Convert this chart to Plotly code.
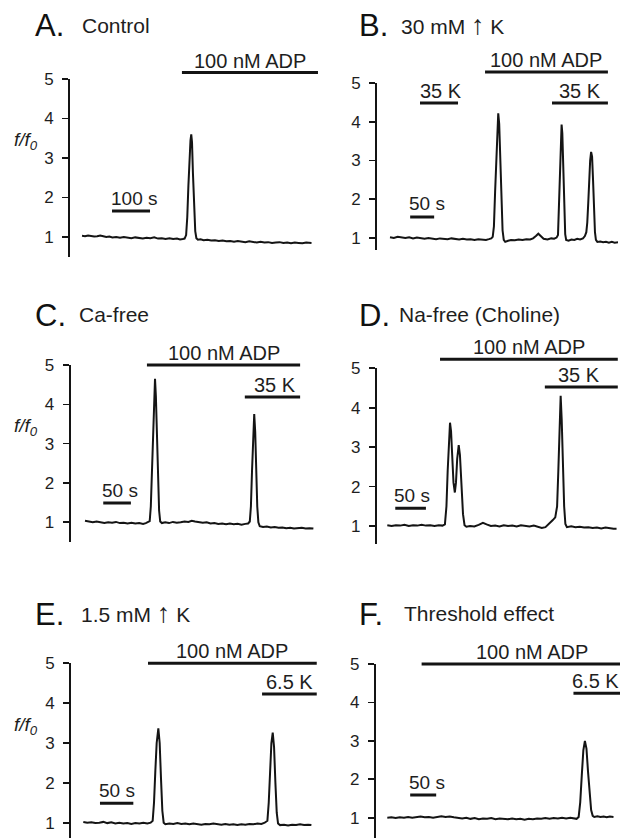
import plotly.graph_objects as go

# ---------------- data (time in s, f/f0) ----------------
trace_A = [(0,1.03),(8,1.02),(16,1.04),(24,1.03),(32,1.01),(40,1.02),(48,1.04),(56,1.02),(64,1.0),(72,1.01),
           (80,0.99),(90,1.0),(100,0.98),(110,1.0),(120,0.99),(130,0.97),(140,0.99),(150,0.98),(160,0.96),(170,0.98),
           (180,0.97),(190,0.99),(200,0.96),(210,0.97),(220,0.95),(230,0.97),(240,0.95),(250,0.96),(258,0.94),(265,0.95),(270,0.96),
           (274,1.05),(277,1.5),(280,2.3),(283,3.1),(285.5,3.45),(287.5,3.6),(289.5,3.4),(292,2.6),(295,1.7),(298,1.15),(301,0.97),(305,0.93),
           (312,0.94),(320,0.92),(330,0.93),(340,0.91),(350,0.92),(360,0.9),(370,0.91),(380,0.89),(390,0.9),(400,0.88),
           (410,0.9),(420,0.88),(430,0.87),(440,0.89),(450,0.87),(460,0.86),(470,0.88),(480,0.86),(490,0.87),(500,0.85),
           (510,0.86),(520,0.87),(530,0.85),(540,0.86),(550,0.84),(560,0.86),(570,0.85),(580,0.84),(590,0.86),(598,0.85),(604,0.85)]

trace_B = [(0,1.02),(8,1.0),(16,1.03),(24,1.01),(32,1.0),(40,1.02),(48,0.99),(56,1.01),(64,1.0),(72,0.98),(80,1.0),(88,0.99),
           (96,0.97),(104,0.99),(112,0.98),(120,0.97),(128,0.99),(136,0.97),(144,0.96),(152,0.98),(160,0.96),(168,0.97),(176,0.95),
           (184,0.97),(192,0.96),(200,0.95),(206,0.97),(211,0.99),(214,1.03),
           (216.5,1.3),(219,2.2),(221.5,3.2),(223.5,3.9),(225.5,4.22),(227.5,3.95),(229.5,3.0),(232,1.9),(234.5,1.2),(237,0.95),(240,0.9),
           (246,0.93),(252,0.95),(260,0.94),(268,0.96),(276,0.95),(284,0.97),(292,0.96),(298,0.99),(304,1.05),(309,1.11),(314,1.05),
           (320,0.98),(328,0.96),(336,0.99),(342,0.98),(347,1.01),(350,1.08),
           (352,1.8),(354,2.9),(356,3.6),(357.5,3.93),(359,3.7),(361,2.7),(363,1.7),(365,1.1),(367,0.95),
           (372,0.93),(378,0.96),(384,0.95),(390,0.98),(396,0.96),(402,0.99),(406,1.05),(409,1.15),(411,1.4),(413,1.9),(415,2.5),
           (417,3.0),(419,3.22),(421,3.1),(423,2.5),(425,1.7),(427,1.15),(429,0.95),(432,0.9),
           (438,0.91),(444,0.89),(450,0.9),(456,0.88),(462,0.9),(468,0.88),(475,0.89)]

trace_C = [(0,1.04),(7,1.02),(14,1.0),(21,1.02),(28,1.0),(35,0.98),(42,1.0),(49,0.99),(56,1.01),(63,0.98),(70,0.99),(77,0.97),
           (84,0.99),(91,0.97),(98,0.98),(105,0.96),(110,0.98),(114,1.0),(117,1.03),
           (119,1.4),(121,2.3),(123,3.3),(125,4.2),(126.6,4.65),(128.2,4.2),(130,3.1),(132,2.0),(134,1.3),(136,1.02),(139,0.98),
           (145,1.0),(152,0.98),(159,1.01),(166,0.99),(173,1.0),(180,1.02),(187,1.01),(193,1.04),(199,1.02),(206,1.0),(213,0.99),
           (220,1.0),(227,0.97),(234,0.98),(241,0.96),(248,0.97),(255,0.95),(262,0.97),(269,0.95),(276,0.96),(283,0.94),(290,0.96),
           (295,0.97),(298,1.02),
           (300,1.4),(302,2.3),(304,3.2),(306,3.75),(307.8,3.3),(309.5,2.3),(311.5,1.4),(313.5,1.0),(316,0.9),
           (322,0.88),(329,0.89),(336,0.87),(343,0.88),(350,0.86),(357,0.87),(364,0.85),(371,0.86),(378,0.84),(385,0.85),
           (392,0.86),(399,0.84),(406,0.85),(413,0.84)]

trace_D = [(0,1.02),(7,1.0),(14,1.02),(21,1.01),(28,1.03),(35,1.0),(42,1.02),(49,1.01),(56,1.03),(63,1.01),(70,1.02),(77,1.0),
           (84,1.02),(90,1.01),(94,1.04),
           (96.5,1.5),(98.5,2.4),(100.5,3.2),(102.3,3.62),(104,3.4),(106,2.7),(108,2.1),(110.2,1.85),(112,2.1),(114,2.7),
           (116.5,3.05),(118.5,2.8),(121,2.0),(123.5,1.3),(126,1.02),(129,0.98),
           (135,1.0),(142,0.99),(149,1.03),(156,1.08),(162,1.04),(169,1.0),(176,1.01),(183,0.99),(190,1.02),(197,1.0),(204,1.01),
           (211,0.99),(218,1.02),(225,1.0),(232,0.99),(239,1.01),(246,0.98),(252,0.95),(258,0.97),(264,1.05),(270,1.15),(274,1.22),
           (277,1.5),(279,2.4),(281,3.5),(282.8,4.3),(284.5,3.7),(286.5,2.5),(288.5,1.5),(290.5,1.05),(293,0.97),
           (300,0.99),(307,0.97),(314,0.98),(321,0.96),(328,0.97),(335,0.95),(342,0.96),(349,0.94),(356,0.96),(363,0.94),
           (369,0.93),(374,0.93)]

trace_E = [(0,1.02),(6,1.0),(12,1.01),(18,0.99),(24,1.0),(30,1.02),(36,0.99),(42,1.01),(48,0.98),(54,1.0),(60,0.98),(66,0.99),
           (72,0.97),(78,0.99),(84,0.98),(90,1.0),(96,0.98),(101,1.0),(104,1.05),
           (106,1.5),(108,2.3),(110,3.0),(112.5,3.37),(114.5,3.0),(116.5,2.1),(118.5,1.3),(120.5,1.0),(123,0.96),
           (129,0.98),(135,0.97),(141,0.99),(147,0.97),(153,0.98),(159,0.96),(165,0.98),(171,0.97),(177,0.95),(183,0.97),(189,0.96),
           (195,0.98),(201,0.96),(207,0.95),(213,0.97),(219,0.95),(225,0.96),(231,0.94),(237,0.96),(243,0.95),(249,0.97),(255,0.96),
           (261,0.98),(267,0.97),(272,1.0),(276,1.05),
           (278,1.5),(280,2.3),(282,3.0),(284,3.26),(286,2.9),(288,2.0),(290,1.25),(292,0.98),(295,0.94),
           (301,0.95),(307,0.93),(313,0.95),(319,0.94),(325,0.96),(331,0.94),(337,0.95),(342,0.94)]

trace_F = [(0,1.0),(8,1.01),(16,0.99),(24,1.01),(32,1.0),(40,1.02),(48,1.0),(56,1.01),(64,1.03),(72,1.01),(80,1.02),(88,1.0),
           (96,1.03),(104,1.04),(112,1.02),(120,1.03),(128,1.01),(136,1.0),(144,0.98),(152,1.0),(160,0.97),(168,0.99),(176,0.96),
           (184,0.98),(192,0.97),(200,0.99),(208,0.96),(216,0.98),(224,0.97),(232,0.96),(240,0.98),(248,0.96),(256,0.97),(264,0.95),
           (272,0.97),(280,0.96),(288,0.98),(296,0.97),(304,0.99),(312,0.97),(320,0.99),(328,0.98),(336,1.0),(344,0.98),(352,1.0),
           (358,0.99),(364,0.97),(368,1.02),
           (371,1.4),(374,2.1),(377,2.75),(380,3.0),(383,2.8),(386,2.2),(389,1.6),(392,1.2),(395,1.05),(398,1.02),
           (404,1.04),(410,1.02),(416,1.03),(422,1.01),(428,1.03),(435,1.02)]

# application bars: (label, start s, end s)
bars_A = [("100 nM ADP", 263, 621)]
bars_B = [("100 nM ADP", 198, 454), ("35 K", 62.5, 141.7), ("35 K", 337.5, 454)]
bars_C = [("100 nM ADP", 112, 389), ("35 K", 289, 389)]
bars_D = [("100 nM ADP", 86, 376), ("35 K", 257, 376)]
bars_E = [("100 nM ADP", 97, 350), ("6.5 K", 268, 350)]
bars_F = [("100 nM ADP", 66, 447.5), ("6.5 K", 358, 447.5)]

# time scale bars: (label, start s, end s)
scale_A = ("100 s", 79, 179)
scale_B = ("50 s", 42, 92)
scale_C = ("50 s", 33, 83)
scale_D = ("50 s", 13, 63)
scale_E = ("50 s", 25, 75)
scale_F = ("50 s", 44, 94)

ARROW = "&nbsp;<span style='font-size:27px'>\u2191</span>&nbsp;"
titles = {"A": "Control", "B": "30 mM" + ARROW + "K", "C": "Ca-free", "D": "Na-free (Choline)",
          "E": "1.5 mM" + ARROW + "K", "F": "Threshold effect"}
y_ticks = [1, 2, 3, 4, 5]

# ---------------- layout geometry (pixels) ----------------
W, H = 624, 838
geom = {
    "A": dict(ax=70, right=320, t0=82, pps=0.38, y5=79, y1=237, bot=257, bar_y=[72.5], scale_y=211,
              let_x=33, sub_x=80, title_y=25, text_dx=[0]),
    "B": dict(ax=377, right=620, t0=390, pps=0.48, y5=83, y1=238, bot=250, bar_y=[72, 103, 103], scale_y=217,
              let_x=357, sub_x=399, title_y=25, text_dx=[0, 2, 0]),
    "C": dict(ax=70.5, right=315, t0=85, pps=0.553, y5=365, y1=522.3, bot=542, bar_y=[365, 397], scale_y=503,
              let_x=33, sub_x=77, title_y=314, text_dx=[0, 3]),
    "D": dict(ax=376.7, right=620, t0=387.3, pps=0.613, y5=368.3, y1=526, bot=544, bar_y=[359.3, 387], scale_y=508.3,
              let_x=357, sub_x=397, title_y=314, text_dx=[0, -2]),
    "E": dict(ax=71, right=318, t0=83.3, pps=0.667, y5=663.3, y1=822.7, bot=838, bar_y=[663.3, 694], scale_y=803.3,
              let_x=33, sub_x=79, title_y=613, text_dx=[0, 0]),
    "F": dict(ax=375.7, right=622, t0=387.3, pps=0.52, y5=664, y1=817.7, bot=838, bar_y=[664, 693.3], scale_y=795,
              let_x=357, sub_x=402, title_y=613, text_dx=[11, -1]),
}
traces = {"A": trace_A, "B": trace_B, "C": trace_C, "D": trace_D, "E": trace_E, "F": trace_F}
bars = {"A": bars_A, "B": bars_B, "C": bars_C, "D": bars_D, "E": bars_E, "F": bars_F}
scales = {"A": scale_A, "B": scale_B, "C": scale_C, "D": scale_D, "E": scale_E, "F": scale_F}
ylabel_panels = {"A", "C", "E"}

FONT = "Liberation Sans, Arial, Helvetica, sans-serif"
INK = "#141414"
TXT = "#1e1e1e"

fig = go.Figure()
shapes, annos = [], []
for i, p in enumerate(["A", "B", "C", "D", "E", "F"]):
    n = "" if i == 0 else str(i + 1)
    g = geom[p]
    ppu = (g["y1"] - g["y5"]) / 4.0
    t = [pt[0] for pt in traces[p]]
    f = [pt[1] for pt in traces[p]]
    fig.add_trace(go.Scatter(x=t, y=f, mode="lines", line=dict(color=INK, width=2),
                             xaxis="x" + n, yaxis="y" + n, showlegend=False, hoverinfo="skip"))
    fig.layout["xaxis" + n] = dict(domain=[g["ax"] / W, g["right"] / W],
                                   range=[(g["ax"] - g["t0"]) / g["pps"], (g["right"] - g["t0"]) / g["pps"]],
                                   visible=False, anchor="y" + n, fixedrange=True)
    fig.layout["yaxis" + n] = dict(domain=[1 - g["bot"] / H, 1 - g["y5"] / H],
                                   range=[1 - (g["bot"] - g["y1"]) / ppu, 5], anchor="x" + n,
                                   tickvals=y_ticks, ticks="outside", ticklen=6, tickwidth=1.6, tickcolor=INK,
                                   showline=True, linewidth=1.8, linecolor=INK, showgrid=False, zeroline=False,
                                   ticklabelstandoff=5, tickfont=dict(family=FONT, size=17, color=TXT),
                                   fixedrange=True, automargin=False)

    def ydom(pix, g=g):
        return (g["bot"] - pix) / (g["bot"] - g["y5"])

    # application bars
    for (lab, s0, s1), by, dx in zip(bars[p], g["bar_y"], g["text_dx"]):
        shapes.append(dict(type="line", xref="x" + n, yref="y" + n + " domain", x0=s0, x1=s1,
                           y0=ydom(by), y1=ydom(by), line=dict(color=INK, width=3)))
        annos.append(dict(text=lab, xref="x" + n, yref="y" + n + " domain", x=(s0 + s1) / 2, y=ydom(by),
                          xanchor="center", yanchor="middle", yshift=12, xshift=dx, showarrow=False,
                          font=dict(family=FONT, size=20, color=TXT)))
    # time scale bar
    lab, s0, s1 = scales[p]
    shapes.append(dict(type="line", xref="x" + n, yref="y" + n + " domain", x0=s0, x1=s1,
                       y0=ydom(g["scale_y"]), y1=ydom(g["scale_y"]), line=dict(color=INK, width=3)))
    annos.append(dict(text=lab, xref="x" + n, yref="y" + n + " domain", x=s0, y=ydom(g["scale_y"]),
                      xanchor="left", yanchor="middle", yshift=13, xshift=-3, showarrow=False,
                      font=dict(family=FONT, size=19, color=TXT)))
    # panel titles
    annos.append(dict(text=p + ".", xref="paper", yref="paper", x=g["let_x"] / W, y=1 - (g["title_y"] + 1) / H,
                      xanchor="left", yanchor="middle", showarrow=False,
                      font=dict(family=FONT, size=31, color="#111")))
    annos.append(dict(text=titles[p], xref="paper", yref="paper", x=g["sub_x"] / W, y=1 - g["title_y"] / H,
                      xanchor="left", yanchor="middle", showarrow=False,
                      font=dict(family=FONT, size=21, color=TXT)))
    if p in ylabel_panels:
        annos.append(dict(text="<i>f/f<sub>0</sub></i>", xref="paper", yref="y" + n, x=40 / W, y=3.42,
                          xanchor="right", yanchor="middle", showarrow=False,
                          font=dict(family=FONT, size=19, color=TXT)))

fig.update_layout(width=W, height=H, margin=dict(l=0, r=0, t=0, b=0, pad=0, autoexpand=False),
                  paper_bgcolor="white", plot_bgcolor="white", shapes=shapes, annotations=annos,
                  showlegend=False)
fig.write_html("out.html", config={"displayModeBar": False, "staticPlot": True},
               post_script="document.body.style.margin='0';document.documentElement.style.overflow='hidden';")
